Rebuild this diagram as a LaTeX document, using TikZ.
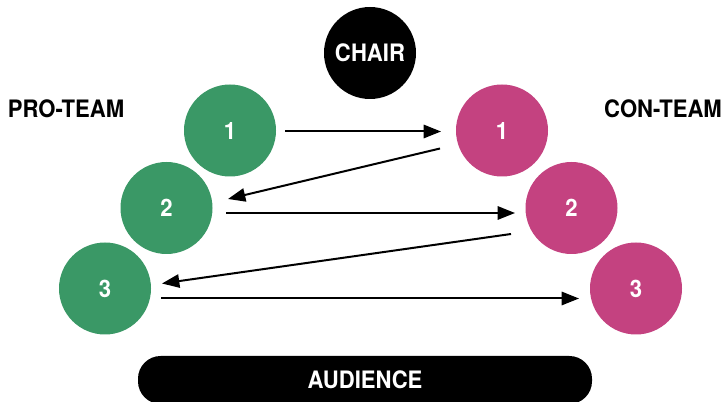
\documentclass[tikz,border=0pt]{standalone}
\usepackage{fontspec}
\setmainfont{TeX Gyre Heros}[FakeStretch=0.92]
\usetikzlibrary{arrows.meta}
\usetikzlibrary{calc}

\definecolor{progreen}{RGB}{58,152,102}
\definecolor{conpink}{RGB}{196,66,128}

\begin{document}
\begin{tikzpicture}[x=0.75pt,y=-0.75pt,
  seat/.style={circle,minimum size=69pt,inner sep=0pt,outer sep=0pt,text=white,font=\fontsize{18}{21}\selectfont\bfseries},
  pro/.style={seat,fill=progreen},
  con/.style={seat,fill=conpink},
  teamlabel/.style={font=\fontsize{18}{21}\selectfont\bfseries},
  turn/.style={line width=1.5pt,-{Triangle[length=13pt,width=10pt]}}]

\useasboundingbox (0,0) rectangle (726,402);

\node[seat,fill=black] (chair) at (370,53) {CHAIR};

\node[teamlabel] (proteam) at (66,109) {PRO-TEAM};
\node[teamlabel] (conteam) at (663,109) {CON-TEAM};

\node[pro] (pro1) at (230,130.5) {1};
\node[pro] (pro2) at (166.5,208) {2};
\node[pro] (pro3) at (105,288.5) {3};

\node[con] (con1) at (502,130.5) {1};
\node[con] (con2) at (571.5,208) {2};
\node[con] (con3) at (636,288.5) {3};

\node[fill=black,text=white,rounded corners=17pt,minimum width=340.5pt,minimum height=36pt,inner sep=0pt,
  font=\fontsize{18}{21}\selectfont\bfseries] (audience) at (365,380) {AUDIENCE};

% speaking order
\draw[turn] ($(pro1.east)+(9,1)$) -- ($(con1.west)+(-15,1)$);
\draw[turn] ($(con1.west)+(-16,18)$) -- ($(pro2.east)+(15.5,-9)$);
\draw[turn] ($(pro2.east)+(13.5,5)$) -- ($(con2.west)+(-10.5,5)$);
\draw[turn] ($(con2.west)+(-14.5,26)$) -- ($(pro3.east)+(11,-5)$);
\draw[turn] ($(pro3.east)+(10,10)$) -- ($(con3.west)+(-11,10)$);

\end{tikzpicture}
\end{document}
